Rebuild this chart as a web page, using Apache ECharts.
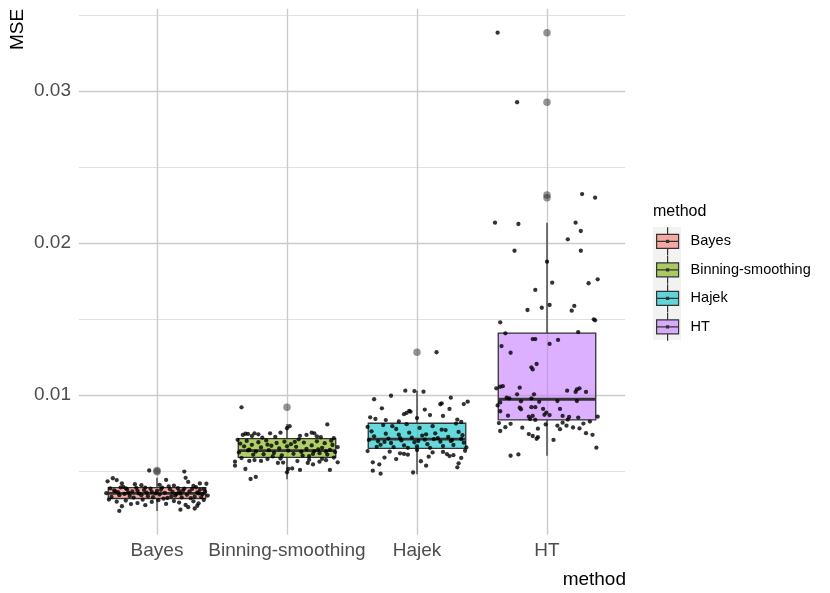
<!DOCTYPE html>
<html>
<head>
<meta charset="utf-8">
<script src="https://cdn.jsdelivr.net/npm/echarts@6/dist/echarts.min.js"></script>
<style>
html,body{margin:0;padding:0;background:#fff;}
#chart{width:830px;height:593px;}
</style>
</head>
<body>
<div id="chart"></div>
<script>
// ---- data ----
const methods = ['Bayes', 'Binning-smoothing', 'Hajek', 'HT'];
const boxLower  = [0.00237, 0.00445, 0.00478, 0.00600];
const boxQ1     = [0.00319, 0.00590, 0.00649, 0.00836];
const boxMedian = [0.00353, 0.00634, 0.00709, 0.00972];
const boxQ3     = [0.00390, 0.00713, 0.00814, 0.01407];
const boxUpper  = [0.00455, 0.00809, 0.01028, 0.02134];

const outliersBayes   = [0.00503, 0.00495];
const outliersBinning = [0.00919];
const outliersHajek   = [0.01281];
const outliersHT      = [0.03384, 0.02926, 0.02316, 0.02298];

const yBreaks = [0.01, 0.02, 0.03];
const yMinorBreaks = [0.005, 0.015, 0.025, 0.035];
const xBreaks = [1, 2, 3, 4];

// jittered points: [horizontal jitter offset (category units), MSE]
const jitterBayes = [
[-0.06,0.00503],[0.21,0.00496],
[-0.34,0.00452],[-0.38,0.00432],[-0.27,0.00419],[-0.17,0.00413],[0.07,0.00441],[0.22,0.00455],[0.24,0.00428],[0.33,0.00418],[0.38,0.00416],[-0.12,0.00406],[0.13,0.00404],[-0.31,0.00440],[0.28,0.00401],[0.02,0.00409],
[-0.36,0.00385],[-0.33,0.00372],[-0.30,0.00361],[-0.28,0.00392],[-0.25,0.00349],[-0.23,0.00378],[-0.21,0.00336],[-0.19,0.00365],[-0.16,0.00389],[-0.14,0.00352],[-0.12,0.00341],[-0.10,0.00374],[-0.08,0.00358],[-0.05,0.00383],[-0.03,0.00327],[0.00,0.00369],[0.02,0.00345],[0.04,0.00391],[0.06,0.00356],[0.08,0.00322],[0.10,0.00379],[0.12,0.00362],[0.14,0.00338],[0.16,0.00387],[0.18,0.00351],[0.20,0.00371],[0.23,0.00343],[0.25,0.00366],[0.27,0.00382],[0.29,0.00331],[0.31,0.00359],[0.33,0.00376],[0.35,0.00347],[0.37,0.00364],[0.39,0.00338],[-0.39,0.00354],[-0.35,0.00329],[-0.29,0.00341],[-0.18,0.00325],[-0.07,0.00334],[0.05,0.00318],[0.11,0.00333],[0.19,0.00326],[0.26,0.00321],[0.34,0.00328],[-0.26,0.00395],[0.09,0.00398],[0.30,0.00393],[-0.01,0.00352],[-0.22,0.00357],[0.15,0.00349],[-0.32,0.00366],[-0.15,0.00371],[-0.04,0.00362],[0.03,0.00376],[0.17,0.00368],[0.32,0.00352],[-0.24,0.00386],[0.21,0.00384],[-0.09,0.00391],[0.36,0.00381],
[-0.37,0.00312],[-0.31,0.00298],[-0.24,0.00305],[-0.15,0.00289],[-0.11,0.00311],[-0.04,0.00296],[0.01,0.00308],[0.07,0.00283],[0.13,0.00302],[0.17,0.00292],[0.22,0.00276],[0.28,0.00300],[0.32,0.00287],[0.36,0.00309],[-0.27,0.00268],[-0.09,0.00275],[0.24,0.00262],[0.31,0.00271],[-0.29,0.00237],[0.29,0.00253],[0.18,0.00245],[-0.20,0.00282]
];

const jitterBinning = [
[-0.35,0.00919],
[0.31,0.00806],[0.00,0.00781],[-0.13,0.00748],[-0.25,0.00748],[-0.22,0.00741],[-0.34,0.00737],[-0.32,0.00745],[0.21,0.00748],[0.23,0.00728],[-0.05,0.00752],[0.02,0.00795],[-0.27,0.00730],[-0.09,0.00724],[0.15,0.00737],[0.26,0.00722],[-0.19,0.00719],[0.36,0.00716],[0.10,0.00731],[0.19,0.00752],[-0.30,0.00744],
[-0.38,0.00705],[-0.36,0.00680],[-0.33,0.00662],[-0.31,0.00698],[-0.29,0.00641],[-0.27,0.00672],[-0.24,0.00628],[-0.22,0.00689],[-0.20,0.00655],[-0.18,0.00610],[-0.16,0.00701],[-0.14,0.00637],[-0.12,0.00666],[-0.10,0.00619],[-0.08,0.00684],[-0.06,0.00648],[-0.04,0.00603],[-0.02,0.00693],[0.01,0.00634],[0.03,0.00676],[0.05,0.00613],[0.07,0.00659],[0.09,0.00708],[0.11,0.00625],[0.13,0.00687],[0.15,0.00645],[0.17,0.00598],[0.19,0.00668],[0.21,0.00631],[0.23,0.00695],[0.25,0.00617],[0.27,0.00652],[0.29,0.00683],[0.31,0.00608],[0.33,0.00639],[0.35,0.00671],[0.37,0.00624],[0.39,0.00657],[-0.37,0.00622],[-0.26,0.00607],[-0.11,0.00596],[0.00,0.00662],[0.12,0.00601],[0.24,0.00642],[0.34,0.00699],[-0.30,0.00635],[-0.15,0.00673],[0.06,0.00692],[0.20,0.00612],[0.30,0.00628],
[-0.40,0.00561],[-0.40,0.00535],[-0.29,0.00566],[-0.25,0.00572],[-0.20,0.00566],[-0.32,0.00513],[-0.28,0.00447],[-0.24,0.00461],[-0.07,0.00553],[-0.03,0.00555],[-0.05,0.00582],[0.00,0.00491],[0.01,0.00513],[0.04,0.00517],[0.10,0.00507],[0.16,0.00553],[0.20,0.00543],[0.33,0.00507],[0.39,0.00557],[0.17,0.00574],[0.27,0.00580],[-0.15,0.00578],[0.08,0.00565],[0.25,0.00561],[-0.35,0.00585],[0.36,0.00588],[0.30,0.00571]
];

const jitterHajek = [
[0.15,0.01281],
[-0.09,0.01028],[-0.02,0.01026],[0.05,0.01022],[-0.33,0.00972],[-0.20,0.00995],[0.26,0.00982],[0.39,0.00956],[0.36,0.00940],[0.18,0.00939],[-0.27,0.00912],[0.25,0.00908],[0.06,0.00904],[-0.06,0.00895],[-0.08,0.00882],[-0.10,0.00874],[-0.36,0.00853],[-0.32,0.00842],[-0.24,0.00835],[0.20,0.00862],[0.10,0.00868],[0.31,0.00838],[-0.14,0.00826],[0.00,0.00848],[0.34,0.00823],[0.19,0.00945],[-0.05,0.00890],
[-0.38,0.00790],[-0.35,0.00761],[-0.33,0.00728],[-0.30,0.00695],[-0.28,0.00672],[-0.26,0.00802],[-0.24,0.00745],[-0.22,0.00713],[-0.20,0.00684],[-0.18,0.00657],[-0.16,0.00776],[-0.14,0.00739],[-0.12,0.00701],[-0.10,0.00668],[-0.08,0.00808],[-0.06,0.00752],[-0.04,0.00719],[-0.02,0.00689],[0.00,0.00661],[0.02,0.00783],[0.04,0.00733],[0.06,0.00706],[0.08,0.00676],[0.10,0.00652],[0.12,0.00795],[0.14,0.00748],[0.16,0.00716],[0.18,0.00693],[0.20,0.00664],[0.22,0.00769],[0.24,0.00724],[0.26,0.00698],[0.28,0.00671],[0.30,0.00812],[0.32,0.00757],[0.34,0.00711],[0.36,0.00686],[0.38,0.00655],[-0.37,0.00704],[-0.25,0.00691],[-0.13,0.00716],[0.01,0.00698],[0.13,0.00709],[0.27,0.00703],[0.35,0.00735],[-0.31,0.00659],[-0.07,0.00652],[0.07,0.00741],[0.19,0.00772],[-0.19,0.00795],
[-0.34,0.00557],[-0.34,0.00502],[-0.28,0.00482],[-0.29,0.00543],[-0.25,0.00588],[-0.13,0.00616],[-0.10,0.00612],[-0.07,0.00607],[0.03,0.00564],[0.07,0.00535],[0.12,0.00622],[0.20,0.00625],[0.23,0.00611],[0.25,0.00598],[0.32,0.00550],[0.31,0.00524],[0.34,0.00586],[-0.38,0.00631],[-0.21,0.00627],[0.00,0.00638],[0.09,0.00594],[0.28,0.00604],[-0.16,0.00578],[0.37,0.00633],[-0.03,0.00490]
];

const jitterHT = [
[-0.38,0.03384],[-0.23,0.02926],[0.27,0.02322],[0.37,0.02298],
[-0.40,0.02134],[-0.22,0.02125],[0.22,0.02134],[0.26,0.02079],[0.16,0.02024],[-0.25,0.01949],[0.26,0.01949],[0.00,0.01877],[0.39,0.01761],[0.32,0.01735],[0.04,0.01739],[-0.09,0.01691],[-0.15,0.01559],[-0.04,0.01574],[0.02,0.01592],[0.19,0.01555],[0.21,0.01586],[-0.36,0.01478],[0.36,0.01498],[0.37,0.01491],
[-0.32,0.01406],[0.24,0.01414],[-0.11,0.01368],[-0.09,0.01368],[0.085,0.01362],[0.02,0.01336],[-0.35,0.01322],[-0.28,0.01278],[-0.12,0.01182],[-0.11,0.01168],[-0.08,0.01204],[-0.39,0.01044],[-0.36,0.01054],[-0.34,0.01058],[-0.21,0.01048],[-0.23,0.01004],[-0.31,0.00982],[-0.29,0.00978],[-0.12,0.00978],[-0.10,0.01004],[0.155,0.01028],[0.22,0.01020],[0.23,0.01036],[0.25,0.01044],[0.30,0.01020],[0.23,0.00960],[0.08,0.00960],[-0.36,0.00951],[-0.20,0.00958],[-0.20,0.00906],[-0.21,0.00916],[-0.12,0.00920],[-0.09,0.00920],[-0.03,0.00908],[0.10,0.00908],[-0.36,0.00893],[-0.005,0.00884],[0.02,0.00868],[-0.14,0.00857],[-0.11,0.00862],[0.12,0.00862],[0.17,0.00855],[0.24,0.00851],[-0.09,0.00836],[-0.13,0.00842],[-0.02,0.00870],[0.39,0.00857],[-0.30,0.00864],[0.16,0.00838],[-0.38,0.00931],[-0.06,0.00955],
[0.33,0.00825],[-0.28,0.00810],[-0.32,0.00788],[-0.36,0.00763],[-0.19,0.00785],[-0.14,0.00743],[-0.11,0.00730],[-0.07,0.00778],[-0.07,0.00722],[-0.08,0.00712],[0.08,0.00798],[0.10,0.00775],[0.15,0.00798],[0.20,0.00786],[0.25,0.00780],[0.30,0.00749],[0.35,0.00738],[0.38,0.00653],[0.05,0.00704],[-0.28,0.00600],[-0.22,0.00609],[-0.37,0.00815],[0.28,0.00812],[0.12,0.00818],[-0.01,0.00806]
];

// ---- styles ----
const FONT = "'Liberation Sans', Arial, Helvetica, sans-serif";
const fills = ['rgba(248,118,109,0.6)', 'rgba(124,174,0,0.6)', 'rgba(0,191,196,0.6)', 'rgba(199,124,255,0.6)'];
const ink = '#333333';
const BOX_HALF = 0.375;
const jitters = [jitterBayes, jitterBinning, jitterHajek, jitterHT];
const outliers = [outliersBayes, outliersBinning, outliersHajek, outliersHT];

const legendIcon = 'path://M0,0M28,28M14,0L14,7M3,7L25,7L25,21L3,21ZM3,14L25,14M14,21L14,28M13,13L15,13L15,15L13,15Z';

function boxRenderer(fill) {
  return function (params, api) {
    const x = api.value(0);
    const lo = api.value(1), q1 = api.value(2), med = api.value(3), q3 = api.value(4), hi = api.value(5);
    const pTop = api.coord([x, hi]);
    const pQ3 = api.coord([x, q3]);
    const pQ1 = api.coord([x, q1]);
    const pBot = api.coord([x, lo]);
    const pL = api.coord([x - BOX_HALF, q3]);
    const pR = api.coord([x + BOX_HALF, q1]);
    const mL = api.coord([x - BOX_HALF, med]);
    const mR = api.coord([x + BOX_HALF, med]);
    return {
      type: 'group',
      children: [
        {type: 'line', shape: {x1: pTop[0], y1: pTop[1], x2: pQ3[0], y2: pQ3[1]}, style: {stroke: ink, lineWidth: 1.3}},
        {type: 'line', shape: {x1: pQ1[0], y1: pQ1[1], x2: pBot[0], y2: pBot[1]}, style: {stroke: ink, lineWidth: 1.3}},
        {type: 'rect', shape: {x: pL[0], y: pL[1], width: pR[0] - pL[0], height: pR[1] - pL[1]}, style: {fill: fill, stroke: ink, lineWidth: 1.3}},
        {type: 'line', shape: {x1: mL[0], y1: mL[1], x2: mR[0], y2: mR[1]}, style: {stroke: ink, lineWidth: 2.8}}
      ]
    };
  };
}

const series = [];
methods.forEach(function (m, i) {
  series.push({
    type: 'custom',
    name: m,
    renderItem: boxRenderer(fills[i]),
    itemStyle: {color: fills[i], borderColor: ink},
    encode: {x: 0, y: [1, 2, 3, 4, 5]},
    data: [[i + 1, boxLower[i], boxQ1[i], boxMedian[i], boxQ3[i], boxUpper[i]]],
    silent: true
  });
});
const outlierData = [];
outliers.forEach(function (arr, i) { arr.forEach(function (v) { outlierData.push([i + 1, v]); }); });
series.push({
  type: 'scatter',
  name: 'outliers',
  data: outlierData,
  symbolSize: 7.5,
  itemStyle: {color: 'rgba(40,40,40,0.62)'},
  silent: true
});
methods.forEach(function (m, i) {
  series.push({
    type: 'scatter',
    name: m,
    data: jitters[i].map(function (p) { return [i + 1 + p[0], p[1]]; }),
    symbolSize: 4.3,
    itemStyle: {color: '#000'},
    silent: true
  });
});

const option = {
  animation: false,
  backgroundColor: '#ffffff',
  textStyle: {fontFamily: FONT},
  title: {
    text: 'method', left: 653, top: 204, padding: 0,
    textStyle: {fontFamily: FONT, fontSize: 16, fontWeight: 'normal', color: '#000'}
  },
  legend: {
    orient: 'vertical', left: 653, top: 226.7, padding: 0,
    itemWidth: 28, itemHeight: 28, itemGap: -0.7,
    selectedMode: false,
    textStyle: {fontFamily: FONT, fontSize: 14.5, color: '#000', padding: [0, 0, 0, 4]},
    data: methods.map(function (m, i) {
      return {name: m, icon: legendIcon, itemStyle: {color: fills[i], borderColor: ink, borderWidth: 1.2}};
    })
  },
  graphic: [{
    type: 'rect', left: 653, top: 227, z: 0,
    shape: {width: 28, height: 113},
    style: {fill: '#f2f2f2'}
  }],
  grid: {left: 79, right: 205, top: 8.8, bottom: 58.2, containLabel: false},
  xAxis: {
    type: 'value', min: 0.4, max: 4.6,
    axisLine: {show: false},
    axisTick: {show: false, customValues: xBreaks},
    axisLabel: {
      customValues: xBreaks,
      formatter: function (v) { return methods[Math.round(v) - 1] || ''; },
      color: '#4d4d4d', fontSize: 19, fontFamily: FONT, margin: 6
    },
    splitLine: {show: true, lineStyle: {color: '#cbcbcb', width: 1.4}},
    name: 'method', nameLocation: 'end', nameGap: 1,
    nameTextStyle: {fontFamily: FONT, fontSize: 19, color: '#000', align: 'right', verticalAlign: 'top', padding: [35, 0, 0, 0]}
  },
  yAxis: [{
    type: 'value', min: 0.0008, max: 0.03541,
    axisLine: {show: false},
    axisTick: {show: false, customValues: yBreaks},
    axisLabel: {
      customValues: yBreaks,
      formatter: function (v) { return v.toFixed(2); },
      color: '#4d4d4d', fontSize: 19, fontFamily: FONT, margin: 8
    },
    splitLine: {show: true, lineStyle: {color: '#cbcbcb', width: 1.4}},
    name: 'MSE', nameLocation: 'end', nameGap: 0, nameRotate: 90,
    nameTextStyle: {fontFamily: FONT, fontSize: 19, color: '#000', align: 'right', verticalAlign: 'bottom', padding: [0, 0, 52, 0]}
  }, {
    type: 'value', min: 0.0008, max: 0.03541, position: 'left',
    axisLine: {show: false},
    axisTick: {show: false, customValues: yMinorBreaks},
    axisLabel: {show: false},
    splitLine: {show: true, lineStyle: {color: '#d9d9d9', width: 0.8}}
  }],
  series: series
};

const chart = echarts.init(document.getElementById('chart'), null, {renderer: 'canvas'});
chart.setOption(option);
</script>
</body>
</html>
